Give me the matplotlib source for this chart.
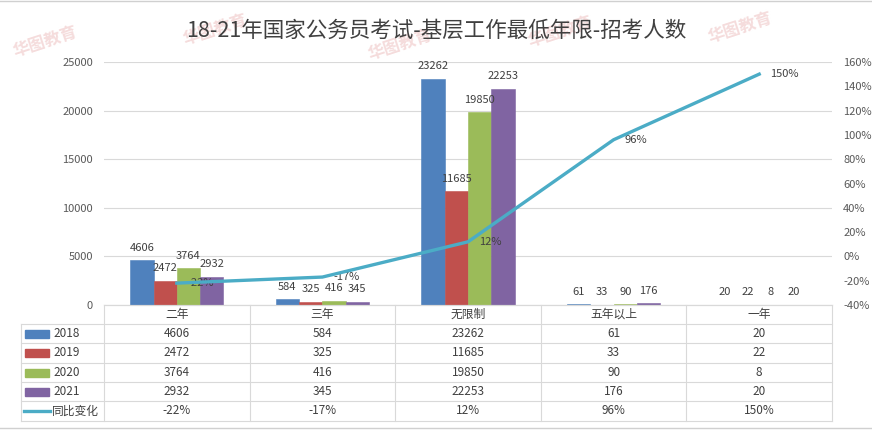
import numpy as np
import matplotlib
matplotlib.use("Agg")
import matplotlib.pyplot as plt
from matplotlib.lines import Line2D
from matplotlib.patches import Rectangle
import matplotlib.transforms as mtransforms
from matplotlib.ticker import FuncFormatter

plt.rcParams['font.family'] = ['Noto Sans CJK SC', 'DejaVu Sans']

# data
categories = ['二年', '三年', '无限制', '五年以上', '一年']
years = ['2018', '2019', '2020', '2021']
v2018 = [4606, 584, 23262, 61, 20]
v2019 = [2472, 325, 11685, 33, 22]
v2020 = [3764, 416, 19850, 90, 8]
v2021 = [2932, 345, 22253, 176, 20]
yoy = [-22, -17, 12, 96, 150]
yoy_label = '同比变化'

series = [v2018, v2019, v2020, v2021]
colors = ['#4F81BD', '#C0504D', '#9BBB59', '#8064A2']
line_color = '#4BACC6'
txt = '#404040'
grid_c = '#D9D9D9'

W, H = 872, 432
fig = plt.figure(figsize=(W / 100, H / 100), dpi=100)

def fy(py):
    return 1 - py / H

def fx(px):
    return px / W

# watermarks (faint)
for (px, py) in [(45, 42), (215, 30), (400, 45), (560, 32), (740, 28)]:
    fig.text(fx(px), fy(py), '华图教育', color='#F5DCDC', fontsize=12, rotation=18,
             ha='center', va='center', fontweight='bold', zorder=0)

ax = fig.add_axes([fx(104), fy(305), fx(832) - fx(104), fy(62) - fy(305)])
ax.set_facecolor('none')
x = np.arange(len(categories))
bw = 0.16
for i, (vals, c) in enumerate(zip(series, colors)):
    xs = x + (i - 1.5) * bw
    ax.bar(xs, vals, width=bw, color=c, edgecolor=c, linewidth=0.4, zorder=2)
    for xb, v in zip(xs, vals):
        ax.annotate(str(v), (xb, v), xytext=(0, 9), textcoords='offset points',
                    ha='center', va='center', fontsize=8, color=txt, zorder=5)

ax.set_xlim(-0.5, len(categories) - 0.5)
ax.set_ylim(0, 25000)
ax.set_yticks(np.arange(0, 25001, 5000))
ax.yaxis.grid(True, color=grid_c, lw=0.8, zorder=0)
ax.set_axisbelow(True)
ax.set_xticks([])
for s in ['top', 'right', 'left']:
    ax.spines[s].set_visible(False)
ax.spines['bottom'].set_color(grid_c)
ax.tick_params(axis='y', length=0, labelsize=8, labelcolor='#595959', pad=8)

ax2 = ax.twinx()
ax2.plot(x, np.array(yoy) / 100, color=line_color, lw=2.4, zorder=4)
for xi, v in zip(x, yoy):
    ax2.annotate(f'{v}%', (xi, v / 100), xytext=(8, 0), textcoords='offset points',
                 ha='left', va='center', fontsize=8, color=txt)
ax2.set_ylim(-0.4, 1.6)
ax2.set_yticks(np.arange(-0.4, 1.61, 0.2))
ax2.yaxis.set_major_formatter(FuncFormatter(lambda v, p: f'{v * 100:.0f}%'))
ax2.tick_params(axis='y', length=0, labelsize=8, labelcolor='#595959', pad=8)
for s in ax2.spines.values():
    s.set_visible(False)

fig.text(0.5, fy(31), '18-21年国家公务员考试-基层工作最低年限-招考人数',
         ha='center', va='center', fontsize=15.5, color=txt)

# data table
trans = mtransforms.blended_transform_factory(ax.transData, fig.transFigure)
row_tops = [305, 324, 343, 363, 382, 401, 421]
left_px = 21
bounds = np.arange(len(categories) + 1) - 0.5

def hline(y0, x0=left_px):
    fig.add_artist(Line2D([fx(x0), fx(832)], [fy(y0), fy(y0)], color=grid_c, lw=0.8))

hline(row_tops[0], 104)
for y0 in row_tops[1:]:
    hline(y0)
for b in bounds:
    fig.add_artist(Line2D([b, b], [fy(305), fy(421)], color=grid_c, lw=0.8, transform=trans))
fig.add_artist(Line2D([fx(left_px), fx(left_px)], [fy(324), fy(421)], color=grid_c, lw=0.8))

def mid(i):
    return fy((row_tops[i] + row_tops[i + 1]) / 2)

for xi, c in zip(x, categories):
    fig.text(xi, mid(0), c, transform=trans, ha='center', va='center', fontsize=8.5, color=txt)

for r, (name, vals, c) in enumerate(zip(years, series, colors)):
    ym = mid(r + 1)
    fig.add_artist(Rectangle((fx(25), ym - 4 / H), 24 / W, 8 / H, color=c))
    fig.text(fx(53), ym, name, ha='left', va='center', fontsize=8.5, color=txt)
    for xi, v in zip(x, vals):
        fig.text(xi, ym, str(v), transform=trans, ha='center', va='center', fontsize=8.5, color=txt)

ym = mid(5)
fig.add_artist(Line2D([fx(24), fx(50)], [ym, ym], color=line_color, lw=2.4))
fig.text(fx(52), ym, yoy_label, ha='left', va='center', fontsize=8.5, color=txt)
for xi, v in zip(x, yoy):
    fig.text(xi, ym, f'{v}%', transform=trans, ha='center', va='center', fontsize=8.5, color=txt)

# frame lines of screenshot
fig.add_artist(Line2D([0, 1], [fy(1), fy(1)], color='#D0D0D0', lw=1))
fig.add_artist(Line2D([0, 1], [fy(428), fy(428)], color='#D0D0D0', lw=1))

fig.savefig('out.png', dpi=100)
